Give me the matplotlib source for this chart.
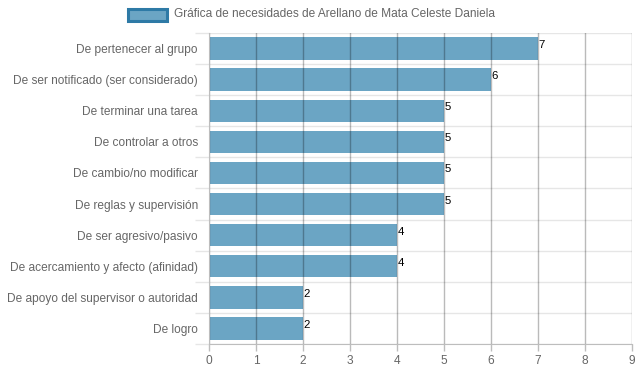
import numpy as np
import matplotlib
matplotlib.use('Agg')
import matplotlib.pyplot as plt

plt.rcParams['font.family'] = ['Liberation Sans', 'DejaVu Sans']

categories = [
    "De pertenecer al grupo",
    "De ser notificado (ser considerado)",
    "De terminar una tarea",
    "De controlar a otros",
    "De cambio/no modificar",
    "De reglas y supervisión",
    "De ser agresivo/pasivo",
    "De acercamiento y afecto (afinidad)",
    "De apoyo del supervisor o autoridad",
    "De logro",
]
values = [7, 6, 5, 5, 5, 5, 4, 4, 2, 2]
series_name = "Gráfica de necesidades de Arellano de Mata Celeste Daniela"
x_ticks = list(range(0, 10))

bar_color = "#6ba5c4"
edge_color = "#2e7aa6"
text_color = "#666666"

fig = plt.figure(figsize=(6.39, 3.72), dpi=100)
ax = fig.add_axes([209 / 639, 28 / 372, 423 / 639, 311 / 372])

y = np.arange(len(categories))
ax.barh(y, values, height=0.72, color=bar_color, zorder=1)
ax.set_ylim(len(categories) - 0.5, -0.5)
ax.set_xlim(0, 9)

# value labels
for i, v in enumerate(values):
    ax.annotate(str(v), (v, i), xytext=(0.5, 2.5), textcoords='offset points',
                ha='left', va='center', fontsize=8.2, color='black', zorder=3)

# ticks / grid
ax.set_xticks(x_ticks)
ax.set_xticklabels([str(t) for t in x_ticks], color=text_color, fontsize=8.6)
ax.set_yticks(y)
ax.set_yticklabels(categories, color=text_color, fontsize=8.6)
for lbl in ax.get_yticklabels():
    lbl.set_va('center_baseline')
ax.set_yticks(np.arange(-0.5, len(categories), 1), minor=True)
ax.tick_params(axis='y', which='major', length=0, pad=8)
ax.tick_params(axis='y', which='minor', length=10, width=1, color='#e6e6e6')
ax.tick_params(axis='x', length=5, width=1, color='#bdbdbd', pad=3)
ax.grid(axis='y', which='minor', color='#e6e6e6', linewidth=1, zorder=0)
for t in x_ticks:
    ax.axvline(t, color='black', alpha=0.27, linewidth=1, zorder=2)

for side in ['top', 'right']:
    ax.spines[side].set_visible(False)
ax.spines['left'].set_color('#bdbdbd')
ax.spines['bottom'].set_color('#bdbdbd')

# legend
fig.patches.append(matplotlib.patches.Rectangle(
    (128 / 639, 1 - 21 / 372), 39 / 639, 12 / 372, transform=fig.transFigure,
    facecolor=bar_color, edgecolor=edge_color, linewidth=2.2))
fig.text(174 / 639, 1 - 14 / 372, series_name, color=text_color,
         fontsize=8.6, va='center', ha='left')

fig.savefig("out.png", dpi=100)
